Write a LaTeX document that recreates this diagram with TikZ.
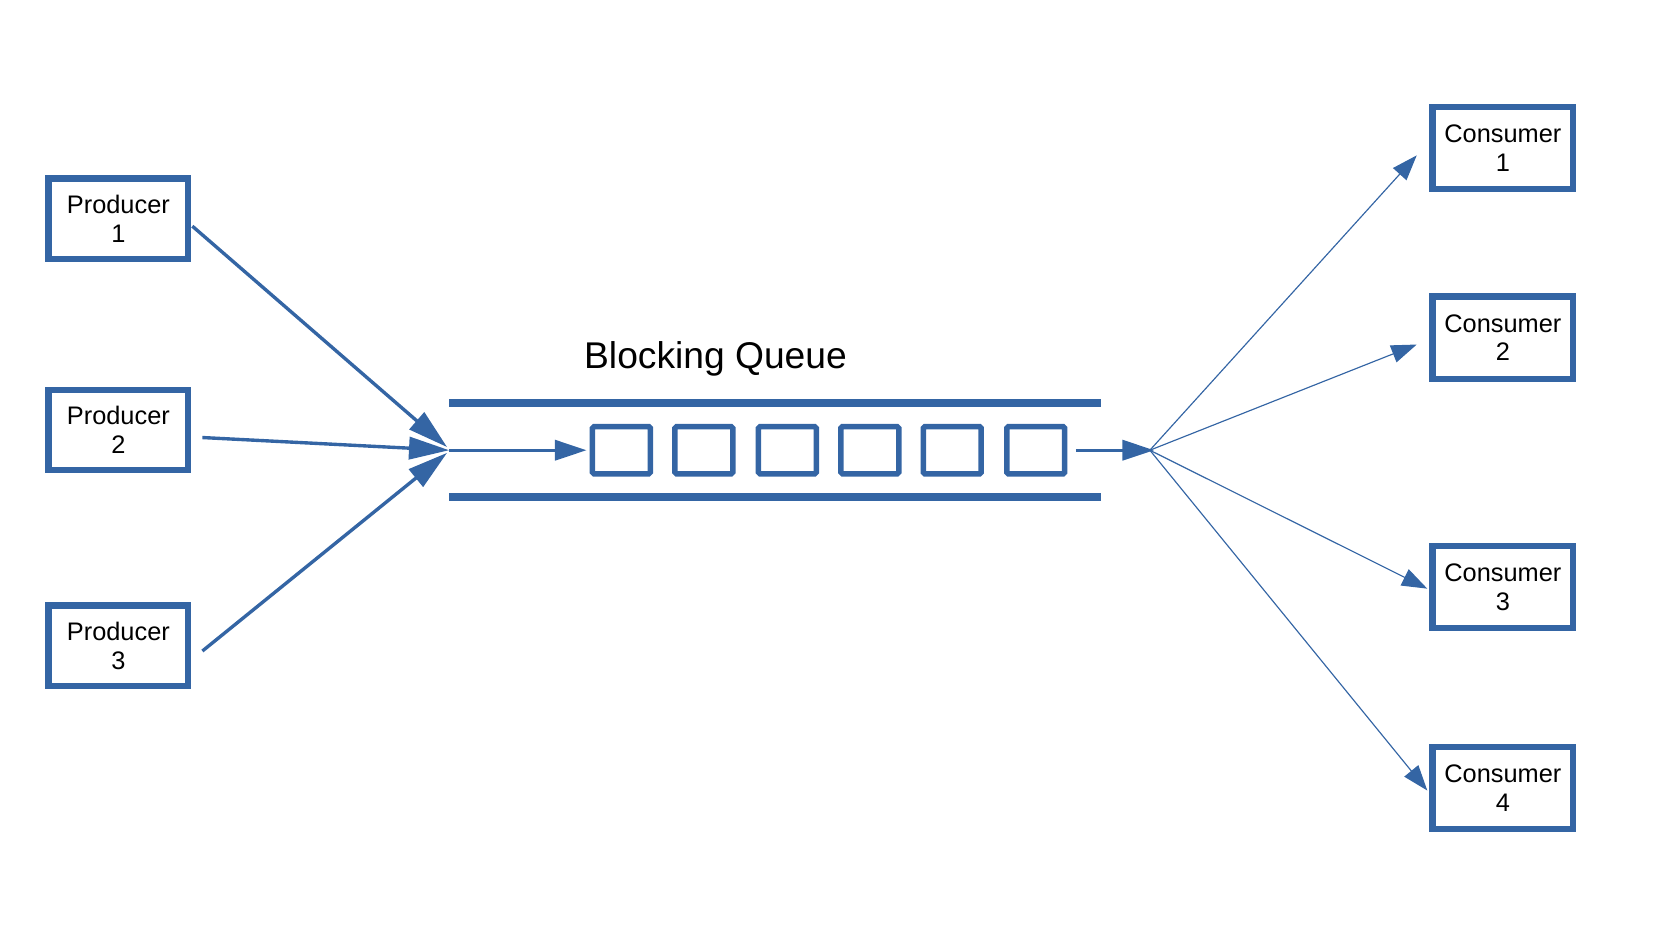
\documentclass[tikz,border=0pt]{standalone}
\usepackage{fontspec}
\setmainfont{Liberation Sans}
\usetikzlibrary{arrows.meta,calc}
\definecolor{qblue}{RGB}{52,101,164}
\begin{document}
\begin{tikzpicture}[x=0.5pt,y=-0.5pt,
  agent/.style={draw=qblue, line width=2.9pt, minimum width=66.1pt, minimum height=38.1pt,
    inner sep=0pt, align=center, font=\fontsize{12}{13.6}\selectfont},
  cons/.style={agent, minimum width=66.6pt, minimum height=39pt},
  slot/.style={draw=qblue, line width=2.6pt, minimum width=27.4pt, minimum height=22.4pt,
    inner sep=0pt, rounded corners=0.8pt},
  rail/.style={draw=qblue, line width=3.8pt},
  bigarrow/.style={draw=qblue, line width=1.6pt, -{Triangle[length=19pt,width=10.5pt]}},
  qarrow/.style={draw=qblue, line width=1.6pt, -{Triangle[length=15pt,width=9.5pt]}},
  thinarrow/.style={draw=qblue, line width=0.55pt, -{Triangle[length=12pt,width=8.5pt]}}]
\useasboundingbox (0,0) rectangle (1565,881);

% producers
\node[agent] (p1) at (112,207) {Producer\\1};
\node[agent] (p2) at (112,407) {Producer\\2};
\node[agent] (p3) at (112,611) {Producer\\3};

% consumers
\node[cons] (c1) at (1422,140) {Consumer\\1};
\node[cons] (c2) at (1422,319.5) {Consumer\\2};
\node[cons] (c3) at (1422,555.5) {Consumer\\3};
\node[cons] (c4) at (1422,745.5) {Consumer\\4};

% queue
\node[font=\fontsize{17.6}{20}\selectfont] (title) at (677,340) {Blocking Queue};
\coordinate (railtl) at (425,381.5);
\coordinate (railtr) at (1042,381.5);
\coordinate (railbl) at (425,470.5);
\coordinate (railbr) at (1042,470.5);
\draw[rail] (railtl) -- (railtr);
\draw[rail] (railbl) -- (railbr);

\node[slot] (s1) at (588,426) {};
\node[slot] (s2) at (666,426) {};
\node[slot] (s3) at (745,426) {};
\node[slot] (s4) at (823,426) {};
\node[slot] (s5) at (901,426) {};
\node[slot] (s6) at (980,426) {};

\coordinate (qin) at (425,426);
\coordinate (qout) at (1092,426);
\coordinate (tip1) at (423,423);
\coordinate (tip3) at (423,428.5);

% producer arrows
\draw[bigarrow] ($(p1.east)+(1,7)$) -- (tip1);
\draw[bigarrow] ($(p2.east)+(10.5,7)$) -- (qin);
\draw[bigarrow] ($(p3.east)+(10.5,5)$) -- (tip3);

% queue arrows
\draw[qarrow] (qin) -- ($(s1.west)+(-3,0)$);
\draw[qarrow] ($(s6.east)+(8,0)$) -- (qout);

% consumer arrows
\draw[thinarrow] ($(qout)+(-4,0)$) -- ($(c1.west)+(-12,7)$);
\draw[thinarrow] ($(qout)+(-4,0)$) -- ($(c2.west)+(-12,6.5)$);
\draw[thinarrow] ($(qout)+(-4,0)$) -- ($(c3.west)+(-2,1.5)$);
\draw[thinarrow] ($(qout)+(-4,0)$) -- ($(c4.west)+(-2,2.5)$);
\end{tikzpicture}
\end{document}
